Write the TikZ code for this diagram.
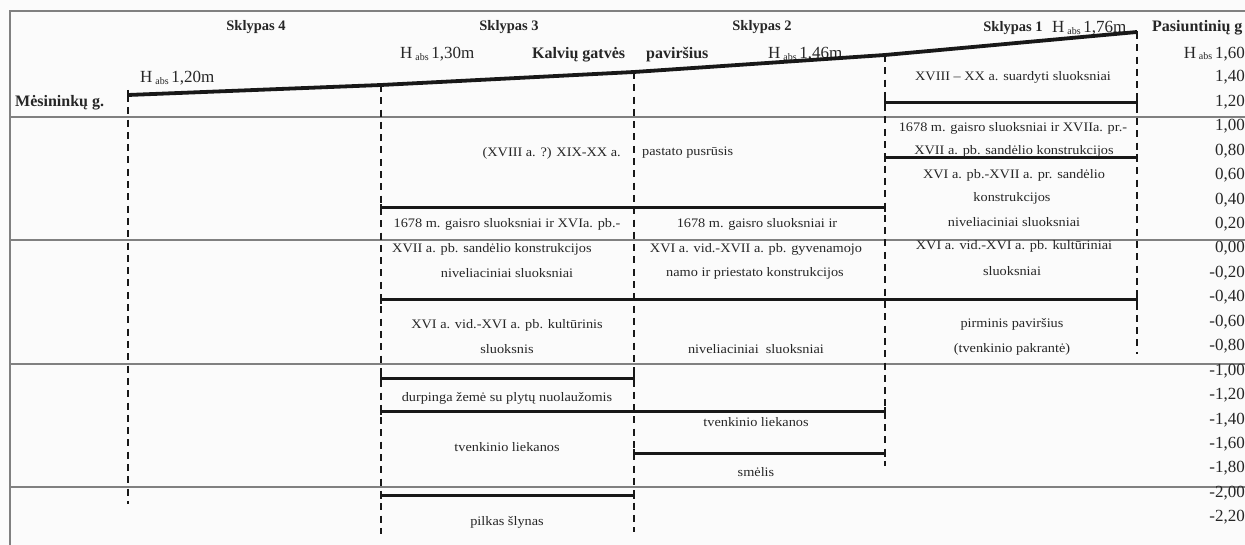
\documentclass[tikz,border=0pt]{standalone}
\usepackage{fontspec}
\setmainfont{Liberation Serif}
\newfontfamily\bodyf[FakeStretch=1.1]{Liberation Serif}
\definecolor{txt}{HTML}{262626}
\definecolor{ink}{HTML}{181818}
\definecolor{grid}{HTML}{808080}
\definecolor{paper}{HTML}{FBFBFB}
\newcommand{\Habs}[1]{H\,\raisebox{-1.5pt}{\fontsize{10}{11}\selectfont abs}\,#1}
\begin{document}
\begin{tikzpicture}[x=1pt,y=-1pt,
  gridline/.style={draw=grid,line width=1.5pt},
  frameline/.style={draw=grid,line width=1.6pt},
  thick line/.style={draw=ink,line width=3pt},
  ground/.style={draw=ink,line width=3.8pt,line join=round},
  dashline/.style={draw=ink,line width=2.8pt,dash pattern=on 7pt off 5.3pt},
  lay/.style={font=\bodyf\fontsize{13}{15}\selectfont,text=txt,inner sep=0pt},
  plot/.style={font=\bfseries\fontsize{14.5}{16}\selectfont,text=txt,inner sep=0pt},
  street/.style={font=\bfseries\fontsize{16}{18}\selectfont,text=txt,inner sep=0pt},
  hlab/.style={font=\fontsize{17}{20}\selectfont,text=txt,inner sep=0pt},
  num/.style={font=\fontsize{17}{20}\selectfont,text=txt,inner sep=0pt,anchor=east},
  tick/.style={draw=ink,line width=2.8pt}]
\useasboundingbox (0,0) rectangle (1245,545);
\fill[paper] (0,0) rectangle (1245,545);

% frame and level lines
\draw[frameline] (10,545) -- (10,11) -- (1245,11);
\foreach \yy in {117,240,364,487} \draw[gridline] (10,\yy) -- (1245,\yy);

% dashed plot boundaries
\draw[dashline] (128,95) -- (128,504);
\draw[dashline] (381,85) -- (381,534);
\draw[dashline] (634,72) -- (634,532);
\draw[dashline] (885,55) -- (885,466);
\draw[dashline] (1137,32) -- (1137,354);

% headings
\node[plot] (s4) at (256,27) {Sklypas 4};
\node[plot] (s3) at (509,27) {Sklypas 3};
\node[plot] (s2) at (762,27) {Sklypas 2};
\node[plot] (s1) at (1013,28) {Sklypas 1};
\node[street,anchor=west] (pas) at (1152,28) {Pasiuntinių g};
\node[street,anchor=west] (mes) at (15,103) {Mėsininkų g.};
\node[street,anchor=west] (kal) at (532,55) {Kalvių gatvės};
\node[street,anchor=west] (pav) at (646,55) {paviršius};

% absolute heights
\node[hlab,anchor=base west] (h120) at (140,83) {\Habs{1,20m}};
\node[hlab,anchor=base west] (h130) at (400,59) {\Habs{1,30m}};
\node[hlab,anchor=base west] (h146) at (768,59) {\Habs{1,46m}};
\node[hlab,anchor=base west] (h176) at (1052,33) {\Habs{1,76m}};

% ground surface
\draw[ground] (128,95) -- (381,85) -- (634,72) -- (885,55) -- (1137,32);
\draw[tick] (128,90) -- (128,100);
\draw[tick] (1137,31) -- (1137,39);

% scale
\node[num] (v0) at (1245,54) {\Habs{1,60}};
\foreach \v [count=\k] in {1{,}40,1{,}20,1{,}00,0{,}80,0{,}60,0{,}40,0{,}20,0{,}00,-0{,}20,-0{,}40,-0{,}60,-0{,}80,-1{,}00,-1{,}20,-1{,}40,-1{,}60,-1{,}80,-2{,}00,-2{,}20}
  \node[num] (v\k) at (1245,{53+24.45*\k}) {\v};

% layer boundaries (thick lines with end ticks)
\foreach \xa/\xb/\yy in {885/1137/103, 885/1137/158, 381/885/208, 381/1137/300,
                         381/634/378, 381/885/411, 634/885/453, 381/634/495}{
  \draw[thick line] (\xa,\yy) -- (\xb,\yy);
  \draw[tick] (\xa,\yy-4) -- (\xa,\yy+4);
  \draw[tick] (\xb,\yy-4) -- (\xb,\yy+4);
}

% Sklypas 1
\node[lay] (a1) at (1013,77) {XVIII – XX a. suardyti sluoksniai};
\node[lay] (a2) at (1013,128) {1678 m. gaisro sluoksniai ir XVIIa. pr.-};
\node[lay] (a3) at (1014,151) {XVII a. pb. sandėlio konstrukcijos};
\node[lay] (a4) at (1014,175) {XVI a. pb.-XVII a. pr. sandėlio};
\node[lay] (a5) at (1012,198) {konstrukcijos};
\node[lay] (a6) at (1014,222) {niveliaciniai sluoksniai};
\node[lay] (a7) at (1014,246) {XVI a. vid.-XVI a. pb. kultūriniai};
\node[lay] (a8) at (1012,271) {sluoksniai};
\node[lay] (a9) at (1012,324) {pirminis paviršius};
\node[lay] (a10) at (1012,349) {(tvenkinio pakrantė)};

% Sklypas 2
\node[lay,anchor=west] (b1) at (642,153) {pastato pusrūsis};
\node[lay] (b2) at (757,224) {1678 m. gaisro sluoksniai ir};
\node[lay] (b3) at (756,249) {XVI a. vid.-XVII a. pb. gyvenamojo};
\node[lay] (b4) at (755,273) {namo ir priestato konstrukcijos};
\node[lay] (b5) at (756,349) {niveliaciniai\ \ sluoksniai};
\node[lay] (b6) at (756,422) {tvenkinio liekanos};
\node[lay] (b7) at (756,472) {smėlis};

% Sklypas 3
\node[lay,anchor=east] (c1) at (621,153) {(XVIII a. ?) XIX-XX a.};
\node[lay] (c2) at (507,224) {1678 m. gaisro sluoksniai ir XVIa. pb.-};
\node[lay,anchor=west] (c3) at (392,249) {XVII a. pb. sandėlio konstrukcijos};
\node[lay] (c4) at (507,273) {niveliaciniai sluoksniai};
\node[lay] (c5) at (507,325) {XVI a. vid.-XVI a. pb. kultūrinis};
\node[lay] (c6) at (507,349) {sluoksnis};
\node[lay] (c7) at (507,398) {durpinga žemė su plytų nuolaužomis};
\node[lay] (c8) at (507,447) {tvenkinio liekanos};
\node[lay] (c9) at (507,522) {pilkas šlynas};
\end{tikzpicture}
\end{document}
